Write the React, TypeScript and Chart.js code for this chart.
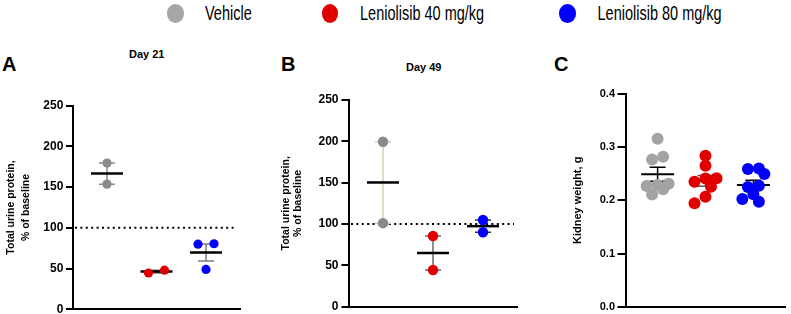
import React, { useEffect, useRef } from 'react';
import { Chart, registerables } from 'chart.js';

Chart.register(...registerables);

const FONT = "'Liberation Sans', Arial, Helvetica, sans-serif";

// Treatment groups, in plotting order
const groupNames = ['Vehicle', 'Leniolisib 40 mg/kg', 'Leniolisib 80 mg/kg'];

// Total urine protein, % of baseline, day 21
const day21Vehicle = [179.5, 153.7];
const day21Len40 = [44.6, 48.0];
const day21Len80 = [80.0, 80.5, 49.0];

// Total urine protein, % of baseline, day 49
const day49Vehicle = [199.5, 101.0];
const day49Len40 = [85.5, 44.4];
const day49Len80 = [104.8, 90.0];

// Kidney weight, g
const kidneyVehicle = [0.316, 0.282, 0.277, 0.231, 0.229, 0.227, 0.221, 0.211];
const kidneyLen40 = [0.2838, 0.265, 0.2414, 0.241, 0.235, 0.2256, 0.2068, 0.1944];
const kidneyLen80 = [0.2601, 0.2588, 0.2494, 0.2274, 0.225, 0.2113, 0.2024, 0.1974];

// Axis ranges
const proteinRange = [0, 250];
const proteinStep = 50;
const weightRange = [0, 0.4];
const weightStep = 0.1;
const baselinePercent = 100;

// Colours
const legendColors = ['#a6a6a6', '#e10000', '#0000fa'];
const proteinPointColors = ['#8a8a8a', '#e10000', '#0000fa'];
const kidneyPointColors = ['#a3a3a3', '#e10000', '#0000fa'];

// Canvas height; the part below the page edge is clipped, leaving room for the
// half-height of the lowest tick label so the plot area keeps its full height.
const CANVAS_H = 340;

type Pt = { x: number; y: number };

// Lays each group's points out as a swarm: points at similar heights share a row,
// rows are spread symmetrically and nudged sideways when they collide with rows above.
const swarmPlugin = {
  id: 'swarm',
  afterDatasetsUpdate(chart: any, _args: any, opts: any) {
    const { rowGap, spacing, minDist } = opts;
    chart.data.datasets.forEach((_ds: any, di: number) => {
      const els: any[] = chart.getDatasetMeta(di).data;
      if (!els.length) return;
      const cx = els[0].x;
      const order = els.slice().sort((a, b) => a.y - b.y);
      const placed: Pt[] = [];
      let i = 0;
      while (i < order.length) {
        const row = [order[i]];
        let j = i + 1;
        while (j < order.length && order[j].y - order[i].y < rowGap) {
          row.push(order[j]);
          j++;
        }
        row.sort((a, b) => b.y - a.y);
        const base = row.map((_e, k) => (k - (row.length - 1) / 2) * spacing);
        const shifts = [0, -spacing / 2, spacing / 2, -spacing, spacing];
        let best = 0;
        let bestD = -1;
        for (const s of shifts) {
          let d = Infinity;
          row.forEach((el, k) => {
            placed.forEach((p) => {
              d = Math.min(d, Math.hypot(cx + base[k] + s - p.x, el.y - p.y));
            });
          });
          if (d >= minDist) {
            best = s;
            break;
          }
          if (d > bestD) {
            bestD = d;
            best = s;
          }
        }
        row.forEach((el, k) => {
          el.x = cx + base[k] + best;
          placed.push({ x: el.x, y: el.y });
        });
        i = j;
      }
    });
  },
};

// Dotted baseline, plus mean line and mean ± SEM error bar behind each group's points
const meanSemPlugin = {
  id: 'meanSem',
  beforeDatasetsDraw(chart: any, _args: any, opts: any) {
    const { ctx, chartArea } = chart;
    const xs = chart.scales.x;
    const ys = chart.scales.y;
    ctx.save();
    if (opts.baseline != null) {
      const yb = ys.getPixelForValue(opts.baseline);
      ctx.strokeStyle = '#000';
      ctx.lineWidth = 2;
      ctx.setLineDash([2, 3.4]);
      ctx.beginPath();
      ctx.moveTo(chartArea.left + 2, yb);
      ctx.lineTo(chartArea.right - 3, yb);
      ctx.stroke();
      ctx.setLineDash([]);
    }
    chart.data.datasets.forEach((ds: any, di: number) => {
      const vals: number[] = ds.data.map((p: Pt) => p.y);
      const n = vals.length;
      const mean = vals.reduce((a, b) => a + b, 0) / n;
      const sd = Math.sqrt(vals.reduce((a, b) => a + (b - mean) * (b - mean), 0) / (n - 1));
      const sem = sd / Math.sqrt(n);
      const px = xs.getPixelForValue(ds.data[0].x);
      const yHi = ys.getPixelForValue(mean + sem);
      const yLo = ys.getPixelForValue(mean - sem);
      const yM = ys.getPixelForValue(mean);
      ctx.strokeStyle = opts.barColors[di];
      ctx.lineWidth = opts.barWidth;
      ctx.beginPath();
      ctx.moveTo(px, yHi);
      ctx.lineTo(px, yLo);
      ctx.moveTo(px - opts.capHalf, yHi);
      ctx.lineTo(px + opts.capHalf, yHi);
      ctx.moveTo(px - opts.capHalf, yLo);
      ctx.lineTo(px + opts.capHalf, yLo);
      ctx.stroke();
      ctx.strokeStyle = '#000';
      ctx.lineWidth = opts.meanWidth;
      ctx.beginPath();
      ctx.moveTo(px - opts.meanHalf, yM);
      ctx.lineTo(px + opts.meanHalf, yM);
      ctx.stroke();
    });
    ctx.restore();
  },
};

type Panel = {
  series: number[][];
  pointColors: string[];
  barColors: string[];
  radius: number;
  xRange: number[];
  yRange: number[];
  yStep: number;
  decimals: number;
  baseline: number | null;
  yTitle: string | string[];
  titleSize: number;
  titleLine: number;
  titlePad: number;
  tickSize: number;
  tickLength: number;
  tickPad: number;
  axisWidth: number;
  pad: { left: number; right: number; top: number; bottom: number };
  swarm: { rowGap: number; spacing: number; minDist: number };
  bars: { barWidth: number; capHalf: number; meanWidth: number; meanHalf: number };
};

function makePanel(canvas: HTMLCanvasElement, p: Panel) {
  return new Chart(canvas as any, {
    type: 'scatter',
    data: {
      datasets: p.series.map((vals, gi) => ({
        label: groupNames[gi],
        data: vals.map((v) => ({ x: gi, y: v })),
        backgroundColor: p.pointColors[gi],
        borderWidth: 0,
        pointRadius: p.radius,
        pointHoverRadius: p.radius,
      })),
    },
    options: {
      responsive: false,
      animation: false,
      devicePixelRatio: 1,
      events: [],
      layout: { padding: p.pad },
      plugins: {
        legend: { display: false },
        tooltip: { enabled: false },
        title: { display: false },
        swarm: p.swarm,
        meanSem: { ...p.bars, barColors: p.barColors, baseline: p.baseline },
      } as any,
      scales: {
        x: {
          type: 'linear',
          min: p.xRange[0],
          max: p.xRange[1],
          ticks: { display: false },
          grid: { display: false, drawTicks: false },
          border: { display: true, color: '#000', width: 2 },
          afterFit: (s: any) => {
            s.height = 0;
          },
        },
        y: {
          type: 'linear',
          min: p.yRange[0],
          max: p.yRange[1],
          ticks: {
            stepSize: p.yStep,
            color: '#000',
            padding: p.tickPad,
            font: { family: FONT, size: p.tickSize, weight: 'bold' },
            callback: (v: any) => Number(v).toFixed(p.decimals),
          },
          grid: {
            drawOnChartArea: false,
            drawTicks: true,
            tickLength: p.tickLength,
            color: '#000',
            lineWidth: 2,
          },
          border: { display: true, color: '#000', width: 2 },
          title: {
            display: true,
            text: p.yTitle,
            color: '#000',
            font: { family: FONT, size: p.titleSize, weight: 'bold', lineHeight: p.titleLine },
            padding: { top: p.titlePad, bottom: 0 },
          },
          afterFit: (s: any) => {
            s.width = p.axisWidth;
          },
        },
      },
    } as any,
    plugins: [swarmPlugin, meanSemPlugin],
  });
}

const proteinTitle = ['Total urine protein,', '% of baseline'];

const panelA: Panel = {
  series: [day21Vehicle, day21Len40, day21Len80],
  pointColors: proteinPointColors,
  barColors: ['#8a8a8a', '#707070', '#7a7a7a'],
  radius: 4.6,
  xRange: [-0.687, 2.687],
  yRange: proteinRange,
  yStep: proteinStep,
  decimals: 0,
  baseline: baselinePercent,
  yTitle: proteinTitle,
  titleSize: 10.5,
  titleLine: 15 / 10.5,
  titlePad: 3.8,
  tickSize: 12,
  tickLength: 7,
  tickPad: 2.7,
  axisWidth: 73,
  pad: { left: 0, right: 10, top: 105.7, bottom: CANVAS_H - 309.3 },
  swarm: { rowGap: 8, spacing: 16, minDist: 9 },
  bars: { barWidth: 1.5, capHalf: 8, meanWidth: 2.5, meanHalf: 16 },
};

const panelB: Panel = {
  series: [day49Vehicle, day49Len40, day49Len80],
  pointColors: proteinPointColors,
  barColors: ['#d6d2b4', '#6a6a6a', '#333333'],
  radius: 5.2,
  xRange: [-0.68, 2.68],
  yRange: proteinRange,
  yStep: proteinStep,
  decimals: 0,
  baseline: baselinePercent,
  yTitle: proteinTitle,
  titleSize: 10.5,
  titleLine: 12.5 / 10.5,
  titlePad: 9.5,
  tickSize: 12,
  tickLength: 7.5,
  tickPad: 3,
  axisWidth: 79,
  pad: { left: 0, right: 13, top: 100, bottom: CANVAS_H - 306.7 },
  swarm: { rowGap: 8, spacing: 10, minDist: 9 },
  bars: { barWidth: 1.5, capHalf: 8, meanWidth: 2.5, meanHalf: 16 },
};

const panelC: Panel = {
  series: [kidneyVehicle, kidneyLen40, kidneyLen80],
  pointColors: kidneyPointColors,
  barColors: ['#000000', '#555555', '#000000'],
  radius: 6,
  xRange: [-0.66, 2.66],
  yRange: weightRange,
  yStep: weightStep,
  decimals: 1,
  baseline: null,
  yTitle: 'Kidney weight, g',
  titleSize: 11,
  titleLine: 13 / 11,
  titlePad: 11.5,
  tickSize: 11,
  tickLength: 8.5,
  tickPad: 2.5,
  axisWidth: 66,
  pad: { left: 0, right: 1, top: 94, bottom: CANVAS_H - 306.7 },
  swarm: { rowGap: 5, spacing: 11, minDist: 9 },
  bars: { barWidth: 1.5, capHalf: 8, meanWidth: 2, meanHalf: 16.5 },
};

const legendItems = [
  { dot: 175.3, text: 205 },
  { dot: 330, text: 360 },
  { dot: 567.5, text: 597.5 },
];

const absText = (extra: React.CSSProperties): React.CSSProperties => ({
  position: 'absolute',
  whiteSpace: 'nowrap',
  color: '#000',
  fontFamily: FONT,
  ...extra,
});

export default function App() {
  const refA = useRef<HTMLCanvasElement>(null);
  const refB = useRef<HTMLCanvasElement>(null);
  const refC = useRef<HTMLCanvasElement>(null);

  useEffect(() => {
    const charts = [
      makePanel(refA.current!, panelA),
      makePanel(refB.current!, panelB),
      makePanel(refC.current!, panelC),
    ];
    return () => charts.forEach((c) => c.destroy());
  }, []);

  const letter = (text: string, left: number) => (
    <div style={absText({ left, top: 54, fontSize: 20, lineHeight: '20px', fontWeight: 'bold' })}>{text}</div>
  );
  const dayTitle = (text: string, center: number, top: number) => (
    <div
      style={absText({
        left: center,
        top,
        fontSize: 11,
        lineHeight: '11px',
        fontWeight: 'bold',
        transform: 'translateX(-50%)',
      })}
    >
      {text}
    </div>
  );

  return (
    <div
      style={{
        position: 'fixed',
        left: 0,
        top: 0,
        width: 791,
        height: 314,
        background: '#fff',
        overflow: 'hidden',
      }}
    >
      {legendItems.map((it, i) => (
        <React.Fragment key={groupNames[i]}>
          <div
            style={{
              position: 'absolute',
              left: it.dot - 8.25,
              top: 13.25 - 9.25,
              width: 16.5,
              height: 18.5,
              borderRadius: '50%',
              background: legendColors[i],
            }}
          />
          <div
            style={absText({
              left: it.text,
              top: 5.7,
              fontSize: 14.5,
              lineHeight: '14.5px',
              transform: 'scaleY(1.4)',
              transformOrigin: '0 50%',
            })}
          >
            {groupNames[i]}
          </div>
        </React.Fragment>
      ))}

      {letter('A', 2)}
      {letter('B', 281)}
      {letter('C', 554)}
      {dayTitle('Day 21', 146.7, 49)}
      {dayTitle('Day 49', 423.7, 62)}

      <canvas ref={refA} width={250} height={CANVAS_H} style={{ position: 'absolute', left: 0, top: 0 }} />
      <canvas ref={refB} width={260} height={CANVAS_H} style={{ position: 'absolute', left: 270, top: 0 }} />
      <canvas ref={refC} width={231} height={CANVAS_H} style={{ position: 'absolute', left: 560, top: 0 }} />
    </div>
  );
}
